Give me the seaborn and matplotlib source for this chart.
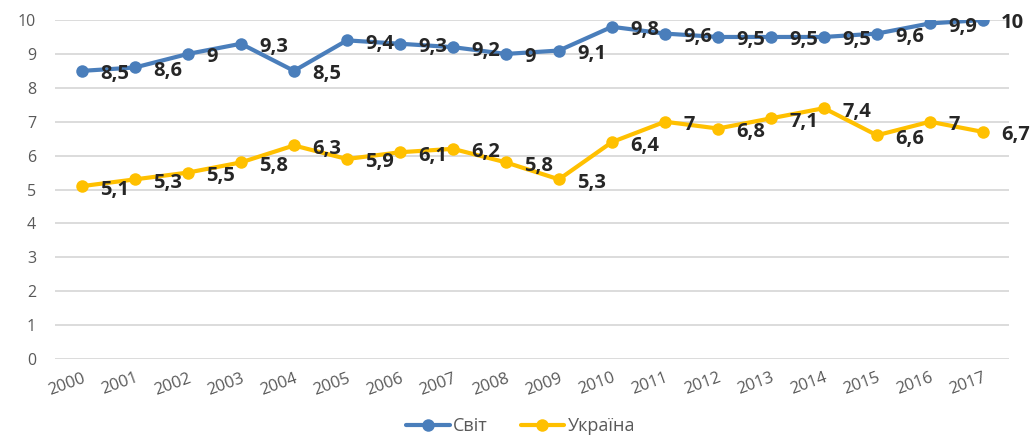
import matplotlib
matplotlib.use("Agg")
import matplotlib.pyplot as plt
import seaborn as sns
import pandas as pd

years = [str(y) for y in range(2000, 2018)]
world = [8.5, 8.6, 9.0, 9.3, 8.5, 9.4, 9.3, 9.2, 9.0, 9.1, 9.8, 9.6, 9.5, 9.5, 9.5, 9.6, 9.9, 10.0]
ukraine = [5.1, 5.3, 5.5, 5.8, 6.3, 5.9, 6.1, 6.2, 5.8, 5.3, 6.4, 7.0, 6.8, 7.1, 7.4, 6.6, 7.0, 6.7]
series_names = ["Світ", "Україна"]
colors = {"Світ": "#4A7EBB", "Україна": "#FFC000"}

df = pd.concat([
    pd.DataFrame({"pos": range(len(years)), "year": years, "value": world, "series": series_names[0]}),
    pd.DataFrame({"pos": range(len(years)), "year": years, "value": ukraine, "series": series_names[1]}),
])

sns.set_style("white")
plt.rcParams["font.family"] = ["Open Sans", "DejaVu Sans"]

fig = plt.figure(figsize=(10.31, 4.40), dpi=100)
ax = fig.add_axes([0.0538, 0.184, 0.9253, 0.7705])

sns.lineplot(data=df, x="pos", y="value", hue="series", palette=colors,
             marker="o", markersize=9, markeredgewidth=0, linewidth=3,
             ax=ax, legend=True, zorder=3)

def fmt(v):
    return f"{v:g}".replace(".", ",")

for vals in (world, ukraine):
    for i, v in enumerate(vals):
        ax.annotate(fmt(v), (i, v), xytext=(13, -2.5), textcoords="offset points",
                    ha="left", va="center", fontsize=14.5, fontweight="bold",
                    color="#262626", zorder=4, annotation_clip=False)

ax.set_xlim(-0.5, len(years) - 0.5)
ax.set_ylim(0, 10)
ax.set_yticks(range(0, 11))
ax.set_xticks(range(len(years)))
ax.set_xticklabels(years, rotation=20, ha="right", rotation_mode="anchor")
ax.tick_params(axis="x", length=0, labelsize=12, colors="#595959", pad=8)
ax.tick_params(axis="y", length=0, labelsize=11.5, colors="#595959", pad=14)
ax.grid(axis="y", color="#D9D9D9", linewidth=1.3, zorder=0)
ax.set_axisbelow(True)
for s in ax.spines.values():
    s.set_visible(False)
ax.set_xlabel("")
ax.set_ylabel("")

handles, labels = ax.get_legend_handles_labels()
leg = ax.legend(handles, labels, loc="lower center", ncol=2, frameon=False, fontsize=13,
                handlelength=2.4, columnspacing=1.8, handletextpad=0.2, borderaxespad=0)
leg.set_bbox_to_anchor((0.505, -0.005), transform=fig.transFigure)
for t in leg.get_texts():
    t.set_color("#595959")

fig.savefig("out.png", dpi=100)
